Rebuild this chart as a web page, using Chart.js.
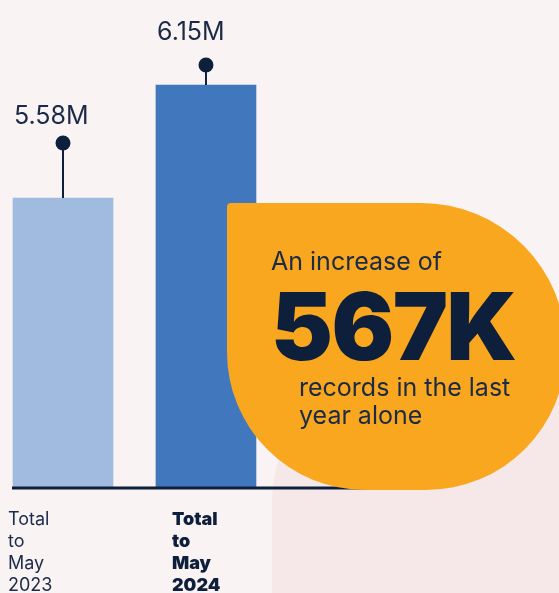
<!DOCTYPE html>
<html>
<head>
<meta charset="utf-8">
<script src="https://cdn.jsdelivr.net/npm/chart.js@4.4.1/dist/chart.umd.min.js"></script>
<style>
    html, body { margin: 0; padding: 0; background: #f9f3f3; }
    #wrap { position: relative; width: 559px; height: 593px; overflow: hidden; font-family: Inter, 'Noto Sans', sans-serif; }
    #blob { position: absolute; left: 272px; top: 380px; width: 420px; height: 420px; background: #f6e8e8; border-top-left-radius: 120px; z-index: 0; }
    #chart { position: absolute; left: 0; top: 0; z-index: 1; }
    #callout { position: absolute; left: 227px; top: 203px; width: 339px; height: 287px; background: #f9a71e;
        border-radius: 4px 145px 140px 138px; z-index: 2; color: #0e1f3b; }
    #callout div { position: absolute; white-space: nowrap; }
    .small { font-size: 25px; line-height: 26px; font-weight: 400; color: #1b2a47; }
    .big { font-size: 93px; line-height: 93px; font-weight: 900; letter-spacing: -1.5px; }
</style>
</head>
<body>
<div id="wrap">
    <div id="blob"></div>
    <canvas id="chart" width="559" height="593"></canvas>
    <div id="callout">
        <div class="small" style="left:44px; top:45px;">An increase of</div>
        <div class="big" style="left:44px; top:77px;">567K</div>
        <div class="small" style="left:72px; top:170px; line-height:28px;">records in the last<br>year alone</div>
    </div>
</div>
<script>
// dữ liệu
const categories = [['Total', 'to', 'May', '2023'], ['Total', 'to', 'May', '2024']];
const values = [5.58, 6.15];
const valueLabels = ['5.58M', '6.15M'];

const barColors = ['#a0bbdf', '#4178bd'];
const navy = '#0e1f3b';
const stemLen = [55, 20];
const labelGap = [19, 25];
const catOffset = [-55, -34];

// Vẽ trục, cây kẹo và nhãn
const decor = {
    id: 'decor',
    afterDatasetsDraw(chart) {
        const ctx = chart.ctx;
        const area = chart.chartArea;
        ctx.save();
        ctx.strokeStyle = navy;
        ctx.lineWidth = 3;
        ctx.beginPath();
        ctx.moveTo(area.left, area.bottom + 1);
        ctx.lineTo(area.right, area.bottom + 1);
        ctx.stroke();

        const bars = chart.getDatasetMeta(0).data;
        bars.forEach((bar, i) => {
            const top = bar.y;
            const dotY = top - stemLen[i];
            ctx.strokeStyle = navy;
            ctx.lineWidth = 2;
            ctx.beginPath();
            ctx.moveTo(bar.x, top);
            ctx.lineTo(bar.x, dotY);
            ctx.stroke();
            ctx.fillStyle = navy;
            ctx.beginPath();
            ctx.arc(bar.x, dotY, 7.5, 0, Math.PI * 2);
            ctx.fill();

            ctx.fillStyle = '#1b2a47';
            ctx.font = '400 25px Inter';
            ctx.textAlign = 'left';
            ctx.textBaseline = 'alphabetic';
            ctx.fillText(valueLabels[i], bar.x - bar.width / 2 + 1, dotY - labelGap[i]);

            const bold = i === categories.length - 1;
            ctx.font = (bold ? '900' : '400') + ' 18px Inter';
            ctx.fillStyle = bold ? navy : '#1c2b49';
            categories[i].forEach((line, j) => {
                ctx.fillText(line, bar.x + catOffset[i], area.bottom + 38 + j * 22);
            });
        });
        ctx.restore();
    }
};

new Chart(document.getElementById('chart'), {
    type: 'bar',
    data: {
        datasets: [{
            data: values.map((v, i) => ({ x: i, y: v })),
            backgroundColor: barColors,
            barThickness: 100,
            borderWidth: 0
        }]
    },
    options: {
        responsive: false,
        animation: false,
        layout: { padding: { left: 12, right: 159, top: 0, bottom: 106 } },
        scales: {
            x: { type: 'linear', offset: false, min: -0.3566, max: 2.357, display: false },
            y: { min: 4.1223, max: 6.5788, display: false }
        },
        plugins: { legend: { display: false }, tooltip: { enabled: false } }
    },
    plugins: [decor]
});
</script>
</body>
</html>
